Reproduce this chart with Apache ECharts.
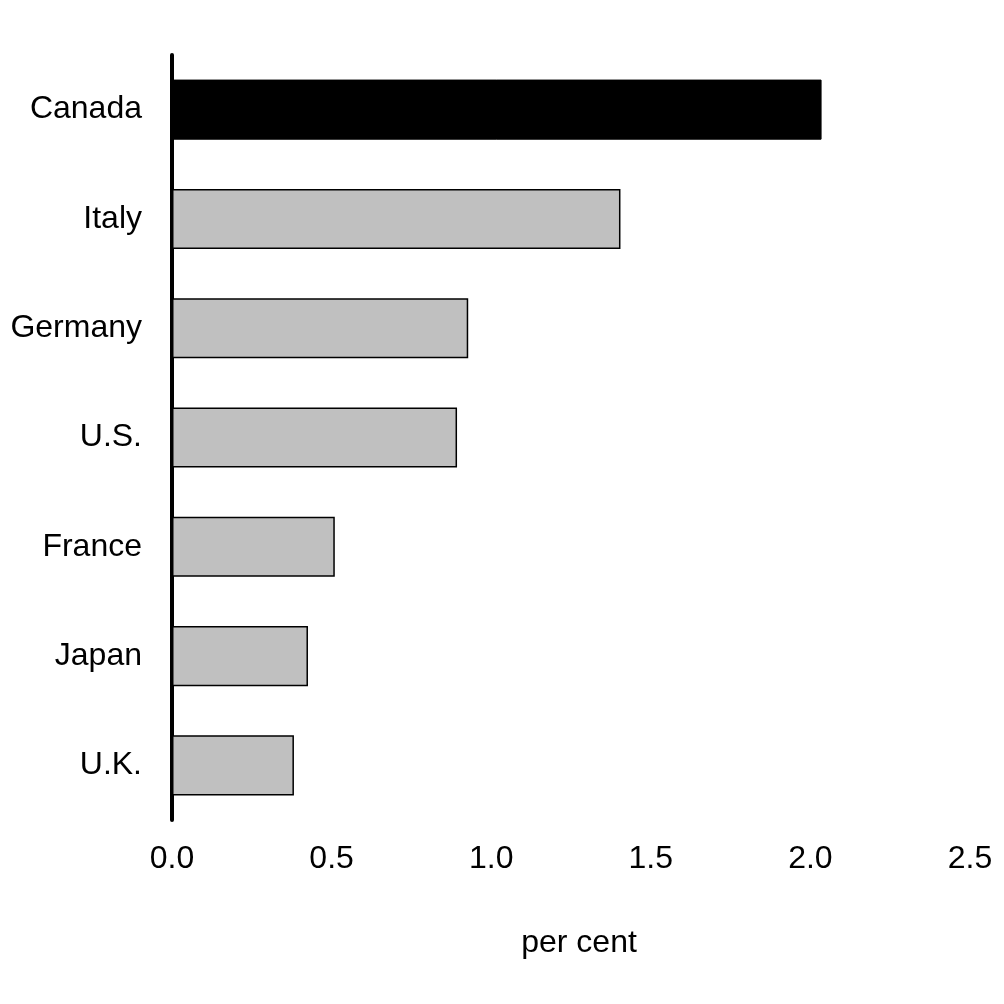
<!DOCTYPE html>
<html><head><meta charset="utf-8">
<script src="https://cdn.jsdelivr.net/npm/echarts@6/dist/echarts.min.js"></script>
<style>html,body{margin:0;padding:0;background:#fff}#c{width:1004px;height:1004px}</style>
</head><body><div id="c"></div>
<script>
const categories = ['Canada', 'Italy', 'Germany', 'U.S.', 'France', 'Japan', 'U.K.'];
const values = [2.035, 1.405, 0.928, 0.893, 0.51, 0.426, 0.382];
const highlight = 'Canada';
const xTickLabels = ['0.0', '0.5', '1.0', '1.5', '2.0', '2.5'];
const xAxisTitle = 'per cent';

const FONT = 'Liberation Sans, Arial, sans-serif';
const chart = echarts.init(document.getElementById('c'));
chart.setOption({
  animation: false,
  backgroundColor: '#fff',
  grid: { left: 172, right: 34, top: 55, bottom: 184, containLabel: false },
  xAxis: {
    type: 'value', min: 0, max: 2.5, interval: 0.5,
    name: xAxisTitle, nameLocation: 'middle', nameGap: 107,
    nameTextStyle: { fontFamily: FONT, fontSize: 32, color: '#000', padding: [0, 0, 0, 16] },
    axisLine: { show: false }, axisTick: { show: false }, splitLine: { show: false },
    axisLabel: { fontFamily: FONT, fontSize: 32, color: '#000', margin: 23,
      formatter: v => xTickLabels[Math.round(v / 0.5)] }
  },
  yAxis: {
    type: 'category', data: categories, inverse: true,
    axisLine: { show: true, lineStyle: { color: '#000', width: 4 } },
    axisTick: { show: false },
    axisLabel: { fontFamily: FONT, fontSize: 32, color: '#000', margin: 30 }
  },
  series: [{
    type: 'bar', barWidth: '55%',
    data: categories.map((c, i) => ({
      value: values[i],
      itemStyle: c === highlight ? { color: '#000', borderColor: '#000', borderWidth: 1 }
                                 : { color: '#C0C0C0', borderColor: '#000', borderWidth: 1.5 }
    }))
  }]
});
</script></body></html>
